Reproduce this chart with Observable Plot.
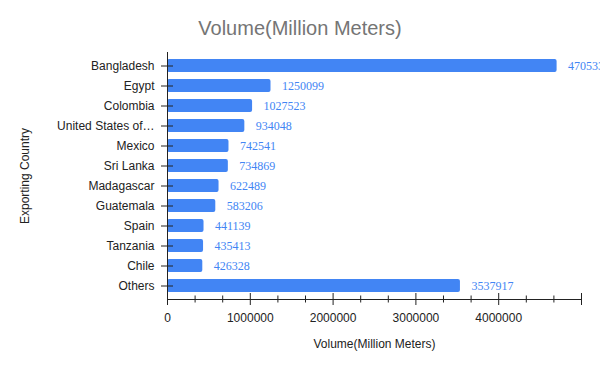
<!DOCTYPE html>
<html>
<head>
<meta charset="utf-8">
<script src="https://cdn.jsdelivr.net/npm/d3@7"></script>
<script src="https://cdn.jsdelivr.net/npm/@observablehq/plot@0.6"></script>
<style>
  body { margin: 0; background: #fff; }
  #title { box-sizing: border-box; width: 600px; height: 40px; padding-top: 17px; text-align: center;
    font-family: Arial, "Liberation Sans", sans-serif; font-size: 20px; line-height: 22px; color: #757575; }
</style>
</head>
<body>
<div id="title">Volume(Million Meters)</div>
<div id="chart"></div>
<script>
const countries = ["Bangladesh", "Egypt", "Colombia", "United States of America", "Mexico", "Sri Lanka",
  "Madagascar", "Guatemala", "Spain", "Tanzania", "Chile", "Others"];
const volumes = [4705338, 1250099, 1027523, 934048, 742541, 734869, 622489, 583206, 441139, 435413, 426328, 3537917];
const majorTicks = [0, 1000000, 2000000, 3000000, 4000000, 5000000];
const majorTickLabels = ["0", "1000000", "2000000", "3000000", "4000000", ""];
const minorTicks = [333333, 666667, 1333333, 1666667, 2333333, 2666667, 3333333, 3666667, 4333333, 4666667];
const xTitle = "Volume(Million Meters)";
const yTitle = "Exporting Country";

const data = countries.map((c, i) => ({country: c, volume: volumes[i]}));
const blue = "#4285f4";
const shortName = d => d.length > 17 ? d.slice(0, 16) + "…" : d;

const chart = Plot.plot({
  width: 600,
  height: 331,
  marginTop: 12,
  marginBottom: 72,
  marginLeft: 167,
  marginRight: 19,
  style: {fontFamily: "Arial, 'Liberation Sans', sans-serif", fontSize: "12px", color: "#222"},
  x: {domain: [0, 5000000]},
  y: {domain: countries, paddingInner: 0.35, paddingOuter: 0.32},
  marks: [
    Plot.barX(data, {x: "volume", y: "country", fill: blue, rx: 2}),
    Plot.text(data, {x: "volume", y: "country", text: d => String(d.volume), textAnchor: "start", dx: 11,
      fill: blue, fontFamily: "'Times New Roman', 'Liberation Serif', serif", fontSize: 12}),
    Plot.frame({anchor: "bottom", stroke: "#222"}),
    Plot.ruleX([0], {stroke: "#222"}),
    Plot.axisX({ticks: majorTicks, tickSize: 6, tickPadding: 8, tickFormat: (d, i) => majorTickLabels[i], label: null, color: "#222"}),
    Plot.axisX({ticks: majorTicks, tickSize: -6, fill: "none", label: null, stroke: "#222"}),
    Plot.axisX({ticks: minorTicks, tickSize: 3.5, fill: "none", label: null, stroke: "#222"}),
    Plot.axisX({ticks: minorTicks, tickSize: -3.5, fill: "none", label: null, stroke: "#222"}),
    Plot.axisY({tickSize: 6, tickPadding: 7, tickFormat: shortName, label: null, color: "#222"}),
    Plot.axisY({tickSize: -6, fill: "none", label: null, stroke: "#222"}),
    Plot.text([xTitle], {frameAnchor: "bottom", dy: 48, fill: "#222", fontSize: 12}),
    Plot.text([yTitle], {frameAnchor: "left", textAnchor: "middle", dx: -142, rotate: -90, fill: "#222", fontSize: 12})
  ]
});
document.getElementById("chart").appendChild(chart);
</script>
</body>
</html>
